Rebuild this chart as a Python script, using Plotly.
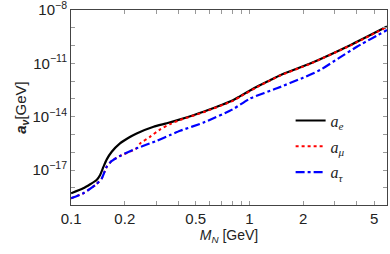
import plotly.graph_objects as go

# Data
m_e = [0.1, 0.117, 0.139, 0.1455, 0.152, 0.1585, 0.169, 0.188, 0.21, 0.233, 0.29, 0.344,
       0.409, 0.552, 0.813, 0.887, 1.1, 1.306, 1.487, 2.19, 3.67, 5.9]
a_e = [4.9e-19, 9.3e-19, 2.75e-18, 5.25e-18, 1.55e-17, 3.98e-17, 1.07e-16, 3.16e-16, 6.6e-16,
       1.15e-15, 2.75e-15, 4.27e-15, 7.08e-15, 1.9e-14, 8.7e-14, 1.45e-13, 4.9e-13, 1.15e-12,
       2.19e-12, 1.0e-11, 1.07e-10, 1.2e-9]

m_mu = [0.1, 0.117, 0.139, 0.1486, 0.1585, 0.169, 0.188, 0.233, 0.244, 0.277, 0.316, 0.359,
        0.409, 0.552, 0.813, 0.887, 1.1, 1.306, 1.487, 2.19, 3.67, 5.9]
a_mu = [2.57e-19, 4.9e-19, 1.62e-18, 3.39e-18, 1.55e-17, 3.24e-17, 6.17e-17, 1.66e-16, 3.16e-16,
        7.41e-16, 1.95e-15, 3.89e-15, 6.6e-15, 1.78e-14, 8.1e-14, 1.35e-13, 4.57e-13, 1.1e-12,
        2.09e-12, 9.55e-12, 1.02e-10, 1.15e-9]

m_tau = [0.1, 0.117, 0.139, 0.1486, 0.1585, 0.169, 0.188, 0.233, 0.303, 0.359, 0.409, 0.552,
         0.8, 1.01, 1.425, 2.0, 2.49, 3.2, 4.0, 5.9]
a_tau = [2.57e-19, 4.9e-19, 1.62e-18, 3.39e-18, 1.55e-17, 3.24e-17, 6.17e-17, 1.66e-16, 4.47e-16,
         9.33e-16, 1.62e-15, 4.68e-15, 2.51e-14, 1.07e-13, 3.98e-13, 1.58e-12, 4.27e-12, 2.14e-11,
         8.7e-11, 7.6e-10]

x_tickvals = [0.1, 0.2, 0.3, 0.4, 0.5, 0.6, 0.7, 0.8, 0.9, 1, 2, 3, 4, 5]
x_ticktext = ["0.1", "0.2", "", "", "0.5", "", "", "", "", "1", "2", "", "", "5"]
y_tickvals = [1e-8, 1e-9, 1e-10, 1e-11, 1e-12, 1e-13, 1e-14, 1e-15, 1e-16, 1e-17, 1e-18]
y_ticktext = ["10<sup>−8</sup>", "", "", "10<sup>−11</sup>", "", "", "10<sup>−14</sup>", "", "",
              "10<sup>−17</sup>", ""]

fig = go.Figure()
fig.add_trace(go.Scatter(x=m_e, y=a_e, mode="lines", name="<i>a</i><sub><i>e</i></sub>",
                         line=dict(color="black", width=2.2, shape="spline", smoothing=0.5),
                         legendgroup="e"))
fig.add_trace(go.Scatter(x=m_mu, y=a_mu, mode="lines", name="<i>a</i><sub><i>μ</i></sub>",
                         line=dict(color="red", width=2, dash="dot", shape="spline", smoothing=0.5),
                         legendgroup="mu"))
fig.add_trace(go.Scatter(x=m_tau, y=a_tau, mode="lines", name="<i>a</i><sub><i>τ</i></sub>",
                         line=dict(color="blue", width=2.2, dash="dashdot", shape="spline", smoothing=0.5),
                         legendgroup="tau"))

axis_common = dict(showgrid=False, zeroline=False, showline=True, linecolor="#444", linewidth=1,
                   mirror="ticks", ticks="inside", ticklen=4, tickcolor="#999", tickwidth=1,
                   ticklabeloverflow="allow",
                   tickfont=dict(family="Liberation Sans, Arial", size=15, color="#222"))

fig.update_xaxes(type="log", range=[-1.0005, 0.771], tickvals=x_tickvals, ticktext=x_ticktext,
                 title=dict(text="<i>M</i><sub><i>N</i></sub> [GeV]", standoff=4,
                            font=dict(family="Liberation Sans, Arial", size=14, color="#222")),
                 **axis_common)
fig.update_yaxes(type="log", range=[-18.97, -7.99], tickvals=y_tickvals, ticktext=y_ticktext,
                 title=dict(text="<b><i>a</i></b><sub><b><i>ν</i></b></sub>[GeV]", standoff=2,
                            font=dict(family="Liberation Sans, Arial", size=15, color="#222")),
                 **axis_common)

fig.update_layout(
    width=390, height=254,
    margin=dict(l=71, r=3, t=10, b=49, autoexpand=False),
    paper_bgcolor="white", plot_bgcolor="white",
    showlegend=True,
    legend=dict(x=0.695, y=0.52, xanchor="left", yanchor="top", bgcolor="rgba(0,0,0,0)",
                font=dict(family="Liberation Serif, serif", size=16, color="#222"),
                tracegroupgap=2, itemwidth=30),
)

fig.write_html("out.html", config={"displayModeBar": False},
               post_script="document.body.style.margin='0';document.body.style.background='white';")
